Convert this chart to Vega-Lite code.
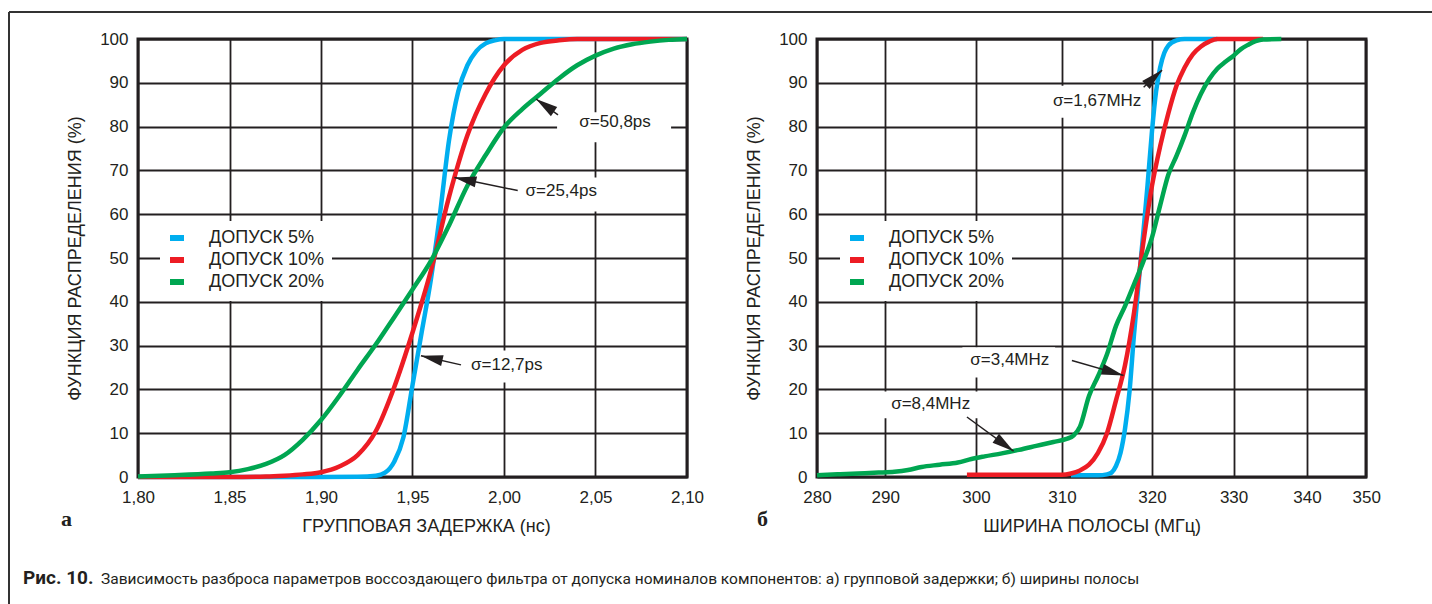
{
  "$schema": "https://vega.github.io/schema/vega-lite/v6.json",
  "background": "white",
  "padding": {"left": 6, "top": 9, "right": 0, "bottom": 0},
  "bounds": "flush",
  "spacing": 130,
  "resolve": {"scale": {"color": "independent"}},
  "config": {
    "view": {"stroke": "#231f20", "strokeWidth": 3},
    "axis": {
      "grid": true, "gridColor": "#231f20", "gridWidth": 1.8, "gridOpacity": 1,
      "domain": false, "ticks": false,
      "labelFont": "Liberation Sans", "labelFontSize": 17, "labelColor": "#231f20",
      "labelFlush": false, "labelOverlap": false,
      "titleFont": "Liberation Sans", "titleFontSize": 18, "titleFontWeight": "normal", "titleColor": "#231f20"
    },
    "axisX": {"labelPadding": 12, "titlePadding": 12},
    "axisY": {"labelPadding": 10, "titlePadding": 15},
    "legend": {
      "orient": "none", "legendX": 22, "legendY": 182, "fillColor": "white", "padding": 7,
      "symbolType": "stroke", "symbolSize": 196, "symbolStrokeWidth": 6,
      "labelFont": "Liberation Sans", "labelFontSize": 18, "labelColor": "#231f20",
      "labelOffset": 22, "rowPadding": -3
    },
    "text": {"font": "Liberation Sans", "fontSize": 17, "fill": "#231f20"}
  },
  "datasets": {
    "delay": [
      {"series": "ДОПУСК 5%", "t": 1.80, "p": 0},
      {"series": "ДОПУСК 5%", "t": 1.90, "p": 0},
      {"series": "ДОПУСК 5%", "t": 1.92, "p": 0.05},
      {"series": "ДОПУСК 5%", "t": 1.93, "p": 0.3},
      {"series": "ДОПУСК 5%", "t": 1.935, "p": 1.0},
      {"series": "ДОПУСК 5%", "t": 1.94, "p": 3.5},
      {"series": "ДОПУСК 5%", "t": 1.945, "p": 9.0},
      {"series": "ДОПУСК 5%", "t": 1.95, "p": 21},
      {"series": "ДОПУСК 5%", "t": 1.955, "p": 33},
      {"series": "ДОПУСК 5%", "t": 1.96, "p": 45},
      {"series": "ДОПУСК 5%", "t": 1.965, "p": 60},
      {"series": "ДОПУСК 5%", "t": 1.97, "p": 77},
      {"series": "ДОПУСК 5%", "t": 1.975, "p": 88},
      {"series": "ДОПУСК 5%", "t": 1.98, "p": 94},
      {"series": "ДОПУСК 5%", "t": 1.985, "p": 97.3},
      {"series": "ДОПУСК 5%", "t": 1.99, "p": 99},
      {"series": "ДОПУСК 5%", "t": 1.995, "p": 99.7},
      {"series": "ДОПУСК 5%", "t": 2.00, "p": 100},
      {"series": "ДОПУСК 5%", "t": 2.10, "p": 100},
      {"series": "ДОПУСК 10%", "t": 1.80, "p": 0},
      {"series": "ДОПУСК 10%", "t": 1.85, "p": 0},
      {"series": "ДОПУСК 10%", "t": 1.87, "p": 0.1},
      {"series": "ДОПУСК 10%", "t": 1.88, "p": 0.3},
      {"series": "ДОПУСК 10%", "t": 1.89, "p": 0.6},
      {"series": "ДОПУСК 10%", "t": 1.90, "p": 1.1},
      {"series": "ДОПУСК 10%", "t": 1.91, "p": 2.4},
      {"series": "ДОПУСК 10%", "t": 1.92, "p": 5.0},
      {"series": "ДОПУСК 10%", "t": 1.93, "p": 10.5},
      {"series": "ДОПУСК 10%", "t": 1.94, "p": 20.5},
      {"series": "ДОПУСК 10%", "t": 1.95, "p": 33},
      {"series": "ДОПУСК 10%", "t": 1.96, "p": 47},
      {"series": "ДОПУСК 10%", "t": 1.97, "p": 64},
      {"series": "ДОПУСК 10%", "t": 1.98, "p": 78},
      {"series": "ДОПУСК 10%", "t": 1.99, "p": 87.5},
      {"series": "ДОПУСК 10%", "t": 2.00, "p": 94},
      {"series": "ДОПУСК 10%", "t": 2.01, "p": 97.5},
      {"series": "ДОПУСК 10%", "t": 2.02, "p": 99.1},
      {"series": "ДОПУСК 10%", "t": 2.03, "p": 99.7},
      {"series": "ДОПУСК 10%", "t": 2.04, "p": 100},
      {"series": "ДОПУСК 10%", "t": 2.10, "p": 100},
      {"series": "ДОПУСК 20%", "t": 1.80, "p": 0.1},
      {"series": "ДОПУСК 20%", "t": 1.82, "p": 0.4},
      {"series": "ДОПУСК 20%", "t": 1.84, "p": 0.8},
      {"series": "ДОПУСК 20%", "t": 1.85, "p": 1.1},
      {"series": "ДОПУСК 20%", "t": 1.86, "p": 1.8},
      {"series": "ДОПУСК 20%", "t": 1.87, "p": 3.0},
      {"series": "ДОПУСК 20%", "t": 1.88, "p": 5.0},
      {"series": "ДОПУСК 20%", "t": 1.89, "p": 8.5},
      {"series": "ДОПУСК 20%", "t": 1.90, "p": 13.0},
      {"series": "ДОПУСК 20%", "t": 1.91, "p": 18.5},
      {"series": "ДОПУСК 20%", "t": 1.92, "p": 24.5},
      {"series": "ДОПУСК 20%", "t": 1.93, "p": 30.3},
      {"series": "ДОПУСК 20%", "t": 1.94, "p": 36.5},
      {"series": "ДОПУСК 20%", "t": 1.95, "p": 42.8},
      {"series": "ДОПУСК 20%", "t": 1.96, "p": 49.3},
      {"series": "ДОПУСК 20%", "t": 1.97, "p": 57.5},
      {"series": "ДОПУСК 20%", "t": 1.98, "p": 66.5},
      {"series": "ДОПУСК 20%", "t": 1.99, "p": 73.5},
      {"series": "ДОПУСК 20%", "t": 2.00, "p": 79.8},
      {"series": "ДОПУСК 20%", "t": 2.01, "p": 84.0},
      {"series": "ДОПУСК 20%", "t": 2.02, "p": 87.5},
      {"series": "ДОПУСК 20%", "t": 2.03, "p": 91.0},
      {"series": "ДОПУСК 20%", "t": 2.04, "p": 94.0},
      {"series": "ДОПУСК 20%", "t": 2.05, "p": 96.2},
      {"series": "ДОПУСК 20%", "t": 2.06, "p": 97.8},
      {"series": "ДОПУСК 20%", "t": 2.07, "p": 98.8},
      {"series": "ДОПУСК 20%", "t": 2.08, "p": 99.4},
      {"series": "ДОПУСК 20%", "t": 2.09, "p": 99.8},
      {"series": "ДОПУСК 20%", "t": 2.10, "p": 100}
    ],
    "band": [
      {"series": "ДОПУСК 5%", "f": 311, "p": 0.4},
      {"series": "ДОПУСК 5%", "f": 314, "p": 0.4},
      {"series": "ДОПУСК 5%", "f": 315, "p": 0.6},
      {"series": "ДОПУСК 5%", "f": 315.5, "p": 1.0},
      {"series": "ДОПУСК 5%", "f": 316, "p": 2.5},
      {"series": "ДОПУСК 5%", "f": 316.5, "p": 5.5},
      {"series": "ДОПУСК 5%", "f": 317, "p": 11},
      {"series": "ДОПУСК 5%", "f": 317.5, "p": 19.5},
      {"series": "ДОПУСК 5%", "f": 318, "p": 32.5},
      {"series": "ДОПУСК 5%", "f": 318.5, "p": 44},
      {"series": "ДОПУСК 5%", "f": 319, "p": 55},
      {"series": "ДОПУСК 5%", "f": 319.5, "p": 66.5},
      {"series": "ДОПУСК 5%", "f": 320, "p": 79},
      {"series": "ДОПУСК 5%", "f": 320.5, "p": 88},
      {"series": "ДОПУСК 5%", "f": 321, "p": 93.5},
      {"series": "ДОПУСК 5%", "f": 321.5, "p": 96.8},
      {"series": "ДОПУСК 5%", "f": 322, "p": 98.5},
      {"series": "ДОПУСК 5%", "f": 323, "p": 99.7},
      {"series": "ДОПУСК 5%", "f": 324, "p": 100},
      {"series": "ДОПУСК 5%", "f": 328, "p": 100},
      {"series": "ДОПУСК 10%", "f": 299, "p": 0.5},
      {"series": "ДОПУСК 10%", "f": 310, "p": 0.5},
      {"series": "ДОПУСК 10%", "f": 311, "p": 0.8},
      {"series": "ДОПУСК 10%", "f": 312, "p": 1.5},
      {"series": "ДОПУСК 10%", "f": 313, "p": 2.8},
      {"series": "ДОПУСК 10%", "f": 314, "p": 5.5},
      {"series": "ДОПУСК 10%", "f": 315, "p": 10},
      {"series": "ДОПУСК 10%", "f": 316, "p": 17.5},
      {"series": "ДОПУСК 10%", "f": 317, "p": 25.5},
      {"series": "ДОПУСК 10%", "f": 318, "p": 37.5},
      {"series": "ДОПУСК 10%", "f": 319, "p": 53},
      {"series": "ДОПУСК 10%", "f": 320, "p": 66.5},
      {"series": "ДОПУСК 10%", "f": 321, "p": 75.5},
      {"series": "ДОПУСК 10%", "f": 322, "p": 83},
      {"series": "ДОПУСК 10%", "f": 323, "p": 89.3},
      {"series": "ДОПУСК 10%", "f": 324, "p": 93.5},
      {"series": "ДОПУСК 10%", "f": 325, "p": 96.5},
      {"series": "ДОПУСК 10%", "f": 326, "p": 98.3},
      {"series": "ДОПУСК 10%", "f": 327, "p": 99.4},
      {"series": "ДОПУСК 10%", "f": 328, "p": 100},
      {"series": "ДОПУСК 10%", "f": 334, "p": 100},
      {"series": "ДОПУСК 20%", "f": 280, "p": 0.4},
      {"series": "ДОПУСК 20%", "f": 283, "p": 0.6},
      {"series": "ДОПУСК 20%", "f": 286, "p": 0.8},
      {"series": "ДОПУСК 20%", "f": 289, "p": 1.0},
      {"series": "ДОПУСК 20%", "f": 291, "p": 1.2},
      {"series": "ДОПУСК 20%", "f": 292.5, "p": 1.6},
      {"series": "ДОПУСК 20%", "f": 294, "p": 2.3},
      {"series": "ДОПУСК 20%", "f": 296, "p": 2.8},
      {"series": "ДОПУСК 20%", "f": 298, "p": 3.3},
      {"series": "ДОПУСК 20%", "f": 299.5, "p": 4.1},
      {"series": "ДОПУСК 20%", "f": 301, "p": 4.7},
      {"series": "ДОПУСК 20%", "f": 303, "p": 5.4},
      {"series": "ДОПУСК 20%", "f": 305, "p": 6.2},
      {"series": "ДОПУСК 20%", "f": 307, "p": 7.1},
      {"series": "ДОПУСК 20%", "f": 309, "p": 8.0},
      {"series": "ДОПУСК 20%", "f": 310.5, "p": 8.7},
      {"series": "ДОПУСК 20%", "f": 311.3, "p": 9.5},
      {"series": "ДОПУСК 20%", "f": 312, "p": 11.5},
      {"series": "ДОПУСК 20%", "f": 313, "p": 18.5},
      {"series": "ДОПУСК 20%", "f": 314, "p": 23},
      {"series": "ДОПУСК 20%", "f": 315, "p": 28},
      {"series": "ДОПУСК 20%", "f": 316, "p": 34.5},
      {"series": "ДОПУСК 20%", "f": 317, "p": 39},
      {"series": "ДОПУСК 20%", "f": 318, "p": 44},
      {"series": "ДОПУСК 20%", "f": 319, "p": 49},
      {"series": "ДОПУСК 20%", "f": 320, "p": 54.7},
      {"series": "ДОПУСК 20%", "f": 321, "p": 62},
      {"series": "ДОПУСК 20%", "f": 322, "p": 69},
      {"series": "ДОПУСК 20%", "f": 323, "p": 73.3},
      {"series": "ДОПУСК 20%", "f": 324, "p": 78},
      {"series": "ДОПУСК 20%", "f": 325, "p": 83.2},
      {"series": "ДОПУСК 20%", "f": 326, "p": 87.5},
      {"series": "ДОПУСК 20%", "f": 327, "p": 90.8},
      {"series": "ДОПУСК 20%", "f": 328, "p": 93.2},
      {"series": "ДОПУСК 20%", "f": 329, "p": 94.8},
      {"series": "ДОПУСК 20%", "f": 330, "p": 96.2},
      {"series": "ДОПУСК 20%", "f": 331, "p": 97.7},
      {"series": "ДОПУСК 20%", "f": 332, "p": 98.7},
      {"series": "ДОПУСК 20%", "f": 333, "p": 99.5},
      {"series": "ДОПУСК 20%", "f": 334, "p": 99.9},
      {"series": "ДОПУСК 20%", "f": 336.5, "p": 100}
    ],
    "notesL": [
      {"label": "σ=50,8ps", "tx": 2.0607, "ty": 81.0, "bx1": 2.029, "bx2": 2.0913, "by1": 76.4, "by2": 83.3, "ax": 2.0295, "ay": 82.7, "hx": 2.0175, "hy": 86.3},
      {"label": "σ=25,4ps", "tx": 2.0313, "ty": 65.4, "bx1": 2.0066, "bx2": 2.0557, "by1": 60.6, "by2": 68.4, "ax": 2.0075, "ay": 65.4, "hx": 1.9729, "hy": 68.4},
      {"label": "σ=12,7ps", "tx": 2.0015, "ty": 25.6, "bx1": 1.9765, "bx2": 2.0268, "by1": 21.6, "by2": 28.9, "ax": 1.9765, "ay": 25.6, "hx": 1.9546, "hy": 27.7}
    ],
    "notesR": [
      {"label": "σ=1,67MHz", "tx": 313.9, "ty": 85.9, "bx1": 308.06, "bx2": 319.6, "by1": 82.0, "by2": 89.3, "ax": 319.07, "ay": 89.0, "hx": 321.23, "hy": 92.9},
      {"label": "σ=3,4MHz", "tx": 303.93, "ty": 26.6, "bx1": 298.5, "bx2": 309.2, "by1": 22.7, "by2": 29.6, "ax": 311.1, "ay": 26.6, "hx": 316.84, "hy": 23.2},
      {"label": "σ=8,4MHz", "tx": 295.0, "ty": 16.6, "bx1": 289.45, "bx2": 301.08, "by1": 13.4, "by2": 19.5, "ax": 299.0, "ay": 13.7, "hx": 304.37, "hy": 5.9}
    ],
    "frame": [
      {"x1": 1.72951, "x2": 2.50765, "y1": 106.16, "y2": -29}
    ],
    "captions": [
      {"part": "bold", "text": "Рис. 10.", "x": 1.73716, "y": -24.5},
      {"part": "body", "text": "Зависимость разброса параметров воссоздающего фильтра от допуска номиналов компонентов: а) групповой задержки; б) ширины полосы", "x": 1.77978, "y": -24.5},
      {"part": "panel", "text": "а", "x": 1.75792, "y": -11.19},
      {"part": "panel", "text": "б", "x": 2.13825, "y": -11.19}
    ]
  },
  "hconcat": [
    {
      "width": 549,
      "height": 438,
      "encoding": {
        "x": {"field": "t", "type": "quantitative",
          "scale": {"domain": [1.8, 2.1], "nice": false, "zero": false},
          "axis": {"values": [1.8, 1.85, 1.9, 1.95, 2.0, 2.05, 2.1], "labelExpr": "replace(format(datum.value, '.2f'), '.', ',')", "title": "ГРУППОВАЯ ЗАДЕРЖКА (нс)", "titleX": 288}},
        "y": {"field": "p", "type": "quantitative",
          "scale": {"domain": [0, 100], "nice": false},
          "axis": {"values": [0, 10, 20, 30, 40, 50, 60, 70, 80, 90, 100], "title": "ФУНКЦИЯ РАСПРЕДЕЛЕНИЯ (%)"}}
      },
      "layer": [
        {"data": {"name": "delay"}, "transform": [{"filter": "datum.series === 'ДОПУСК 5%'"}],
          "mark": {"type": "line", "strokeWidth": 4.5, "interpolate": "monotone"},
          "encoding": {"color": {"field": "series", "type": "nominal", "scale": {"domain": ["ДОПУСК 5%", "ДОПУСК 10%", "ДОПУСК 20%"], "range": ["#00AEEF", "#ED1C24", "#00A651"]}, "legend": {"title": null}}}},
        {"data": {"name": "delay"}, "transform": [{"filter": "datum.series === 'ДОПУСК 10%'"}],
          "mark": {"type": "line", "strokeWidth": 4.5, "interpolate": "monotone"},
          "encoding": {"color": {"field": "series", "type": "nominal", "scale": {"domain": ["ДОПУСК 5%", "ДОПУСК 10%", "ДОПУСК 20%"], "range": ["#00AEEF", "#ED1C24", "#00A651"]}, "legend": {"title": null}}}},
        {"data": {"name": "delay"}, "transform": [{"filter": "datum.series === 'ДОПУСК 20%'"}],
          "mark": {"type": "line", "strokeWidth": 4.5, "interpolate": "monotone"},
          "encoding": {"color": {"field": "series", "type": "nominal", "scale": {"domain": ["ДОПУСК 5%", "ДОПУСК 10%", "ДОПУСК 20%"], "range": ["#00AEEF", "#ED1C24", "#00A651"]}, "legend": {"title": null}}}},
        {"data": {"name": "notesL"}, "mark": {"type": "rect", "fill": "white"},
          "encoding": {"x": {"field": "bx1", "type": "quantitative"}, "x2": {"field": "bx2"}, "y": {"field": "by1", "type": "quantitative"}, "y2": {"field": "by2"}}},
        {"data": {"name": "notesL"}, "mark": {"type": "text", "align": "center", "baseline": "middle"},
          "encoding": {"x": {"field": "tx", "type": "quantitative"}, "y": {"field": "ty", "type": "quantitative"}, "text": {"field": "label"}}},
        {"data": {"name": "notesL"}, "mark": {"type": "rule", "stroke": "#231f20", "strokeWidth": 1.5},
          "encoding": {"x": {"field": "ax", "type": "quantitative"}, "y": {"field": "ay", "type": "quantitative"}, "x2": {"field": "hx"}, "y2": {"field": "hy"}}},
        {"data": {"name": "notesL"}, "transform": [{"filter": "datum.label === 'σ=50,8ps'"}],
          "mark": {"type": "point", "shape": "M0,0L-0.5,2L0.5,2Z", "size": 484, "filled": true, "fill": "#231f20", "strokeWidth": 0, "opacity": 1, "angle": 305},
          "encoding": {"x": {"field": "hx", "type": "quantitative"}, "y": {"field": "hy", "type": "quantitative"}}},
        {"data": {"name": "notesL"}, "transform": [{"filter": "datum.label === 'σ=25,4ps'"}],
          "mark": {"type": "point", "shape": "M0,0L-0.5,2L0.5,2Z", "size": 484, "filled": true, "fill": "#231f20", "strokeWidth": 0, "opacity": 1, "angle": 282},
          "encoding": {"x": {"field": "hx", "type": "quantitative"}, "y": {"field": "hy", "type": "quantitative"}}},
        {"data": {"name": "notesL"}, "transform": [{"filter": "datum.label === 'σ=12,7ps'"}],
          "mark": {"type": "point", "shape": "M0,0L-0.5,2L0.5,2Z", "size": 484, "filled": true, "fill": "#231f20", "strokeWidth": 0, "opacity": 1, "angle": 283},
          "encoding": {"x": {"field": "hx", "type": "quantitative"}, "y": {"field": "hy", "type": "quantitative"}}},
        {"data": {"name": "frame"}, "mark": {"type": "rule", "stroke": "#333333", "strokeWidth": 2},
          "encoding": {"x": {"field": "x1", "type": "quantitative"}, "y": {"field": "y1", "type": "quantitative"}, "y2": {"field": "y2"}}},
        {"data": {"name": "frame"}, "mark": {"type": "rule", "stroke": "#333333", "strokeWidth": 2},
          "encoding": {"x": {"field": "x1", "type": "quantitative"}, "x2": {"field": "x2"}, "y": {"field": "y1", "type": "quantitative"}}},
        {"data": {"name": "captions"}, "transform": [{"filter": "datum.part === 'bold'"}],
          "mark": {"type": "text", "align": "left", "baseline": "alphabetic", "font": "Roboto", "fontSize": 19, "fontWeight": "bold"},
          "encoding": {"x": {"field": "x", "type": "quantitative"}, "y": {"field": "y", "type": "quantitative"}, "text": {"field": "text"}}},
        {"data": {"name": "captions"}, "transform": [{"filter": "datum.part === 'body'"}],
          "mark": {"type": "text", "align": "left", "baseline": "alphabetic", "font": "Roboto", "fontSize": 15.5},
          "encoding": {"x": {"field": "x", "type": "quantitative"}, "y": {"field": "y", "type": "quantitative"}, "text": {"field": "text"}}},
        {"data": {"name": "captions"}, "transform": [{"filter": "datum.part === 'panel'"}],
          "mark": {"type": "text", "align": "left", "baseline": "alphabetic", "font": "Liberation Serif", "fontSize": 22, "fontWeight": "bold"},
          "encoding": {"x": {"field": "x", "type": "quantitative"}, "y": {"field": "y", "type": "quantitative"}, "text": {"field": "text"}}}
      ]
    },
    {
      "width": 549,
      "height": 438,
      "encoding": {
        "x": {"field": "f", "type": "quantitative",
          "scale": {"domain": [280, 290, 300, 310, 320, 330, 340, 350], "range": [0, 68.3, 159, 245, 335, 416.6, 490, 549.3], "nice": false, "zero": false},
          "axis": {"values": [280, 290, 300, 310, 320, 330, 340, 350], "title": "ШИРИНА ПОЛОСЫ (МГц)"}},
        "y": {"field": "p", "type": "quantitative",
          "scale": {"domain": [0, 100], "nice": false},
          "axis": {"values": [0, 10, 20, 30, 40, 50, 60, 70, 80, 90, 100], "title": "ФУНКЦИЯ РАСПРЕДЕЛЕНИЯ (%)"}}
      },
      "layer": [
        {"data": {"name": "band"}, "transform": [{"filter": "datum.series === 'ДОПУСК 5%'"}],
          "mark": {"type": "line", "strokeWidth": 4.5, "interpolate": "monotone"},
          "encoding": {"color": {"field": "series", "type": "nominal", "scale": {"domain": ["ДОПУСК 5%", "ДОПУСК 10%", "ДОПУСК 20%"], "range": ["#00AEEF", "#ED1C24", "#00A651"]}, "legend": {"title": null, "legendX": 23}}}},
        {"data": {"name": "band"}, "transform": [{"filter": "datum.series === 'ДОПУСК 10%'"}],
          "mark": {"type": "line", "strokeWidth": 4.5, "interpolate": "monotone"},
          "encoding": {"color": {"field": "series", "type": "nominal", "scale": {"domain": ["ДОПУСК 5%", "ДОПУСК 10%", "ДОПУСК 20%"], "range": ["#00AEEF", "#ED1C24", "#00A651"]}, "legend": {"title": null, "legendX": 23}}}},
        {"data": {"name": "band"}, "transform": [{"filter": "datum.series === 'ДОПУСК 20%'"}],
          "mark": {"type": "line", "strokeWidth": 4.5, "interpolate": "monotone"},
          "encoding": {"color": {"field": "series", "type": "nominal", "scale": {"domain": ["ДОПУСК 5%", "ДОПУСК 10%", "ДОПУСК 20%"], "range": ["#00AEEF", "#ED1C24", "#00A651"]}, "legend": {"title": null, "legendX": 23}}}},
        {"data": {"name": "notesR"}, "mark": {"type": "rect", "fill": "white"},
          "encoding": {"x": {"field": "bx1", "type": "quantitative"}, "x2": {"field": "bx2"}, "y": {"field": "by1", "type": "quantitative"}, "y2": {"field": "by2"}}},
        {"data": {"name": "notesR"}, "mark": {"type": "text", "align": "center", "baseline": "middle"},
          "encoding": {"x": {"field": "tx", "type": "quantitative"}, "y": {"field": "ty", "type": "quantitative"}, "text": {"field": "label"}}},
        {"data": {"name": "notesR"}, "mark": {"type": "rule", "stroke": "#231f20", "strokeWidth": 1.5},
          "encoding": {"x": {"field": "ax", "type": "quantitative"}, "y": {"field": "ay", "type": "quantitative"}, "x2": {"field": "hx"}, "y2": {"field": "hy"}}},
        {"data": {"name": "notesR"}, "transform": [{"filter": "datum.label === 'σ=1,67MHz'"}],
          "mark": {"type": "point", "shape": "M0,0L-0.5,2L0.5,2Z", "size": 484, "filled": true, "fill": "#231f20", "strokeWidth": 0, "opacity": 1, "angle": 47},
          "encoding": {"x": {"field": "hx", "type": "quantitative"}, "y": {"field": "hy", "type": "quantitative"}}},
        {"data": {"name": "notesR"}, "transform": [{"filter": "datum.label === 'σ=3,4MHz'"}],
          "mark": {"type": "point", "shape": "M0,0L-0.5,2L0.5,2Z", "size": 484, "filled": true, "fill": "#231f20", "strokeWidth": 0, "opacity": 1, "angle": 106},
          "encoding": {"x": {"field": "hx", "type": "quantitative"}, "y": {"field": "hy", "type": "quantitative"}}},
        {"data": {"name": "notesR"}, "transform": [{"filter": "datum.label === 'σ=8,4MHz'"}],
          "mark": {"type": "point", "shape": "M0,0L-0.5,2L0.5,2Z", "size": 484, "filled": true, "fill": "#231f20", "strokeWidth": 0, "opacity": 1, "angle": 126},
          "encoding": {"x": {"field": "hx", "type": "quantitative"}, "y": {"field": "hy", "type": "quantitative"}}}
      ]
    }
  ]
}
